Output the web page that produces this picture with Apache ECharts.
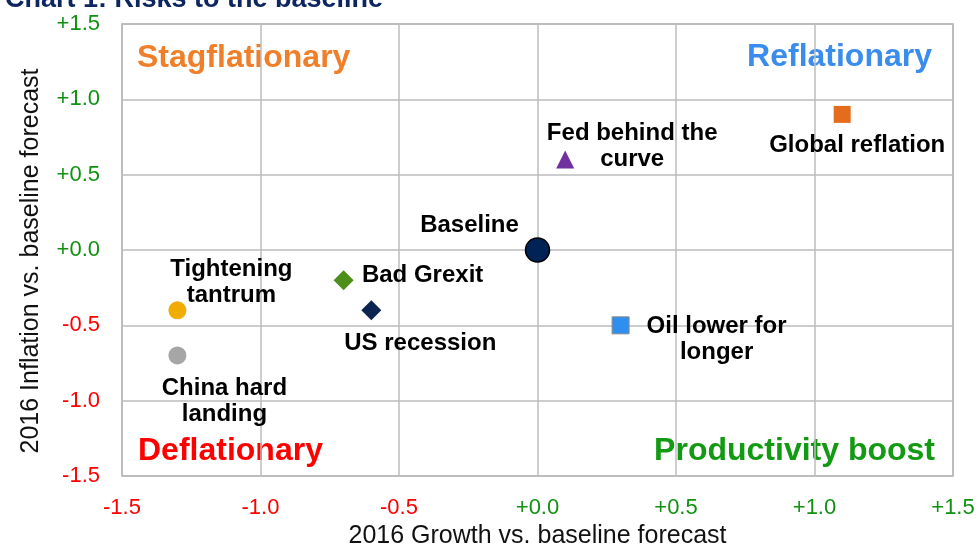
<!DOCTYPE html>
<html>
<head>
<meta charset="utf-8">
<script src="https://cdn.jsdelivr.net/npm/echarts@6/dist/echarts.min.js"></script>
<style>
  html, body { margin: 0; padding: 0; background: #fff; }
  #chart { width: 980px; height: 545px; }
</style>
</head>
<body>
<div id="chart"></div>
<script>
// scenarios: growth vs baseline (x), inflation vs baseline (y)
const names = ['Baseline', 'Fed behind the\ncurve', 'Global reflation', 'Bad Grexit', 'US recession',
  'Tightening\ntantrum', 'China hard\nlanding', 'Oil lower for\nlonger']
const growth = [0.0, 0.1, 1.1, -0.7, -0.6, -1.3, -1.3, 0.3]
const inflation = [0.0, 0.6, 0.9, -0.2, -0.4, -0.4, -0.7, -0.5]
const quadrants = ['Stagflationary', 'Reflationary', 'Deflationary', 'Productivity boost']

// marker looks + label offsets (px from the point centre)
const looks = [
  { symbol: 'circle', size: 24, color: '#002254', border: '#000', bw: 1.5, off: [-68, -25] },
  { symbol: 'triangle', size: 18, color: '#7030a0', off: [67, -13] },
  { symbol: 'rect', size: 17, color: '#e36c1d', off: [15, 31] },
  { symbol: 'diamond', size: 20, color: '#4e8f1a', off: [79, -5] },
  { symbol: 'diamond', size: 20, color: '#0b2550', off: [49, 33] },
  { symbol: 'circle', size: 18, color: '#f0ac00', off: [54, -28] },
  { symbol: 'circle', size: 18, color: '#a6a6a6', off: [47, 46] },
  { symbol: 'rect', size: 17, color: '#2f8ff0', border: '#8a8a8a', bw: 1, off: [96, 14] }
]

const font = '"Liberation Sans", Arial, sans-serif'
const chart = echarts.init(document.getElementById('chart'))

const fmt = v => v >= 0 ? '{p|+' + v.toFixed(1) + '}' : '{n|' + v.toFixed(1) + '}'
const signRich = {
  p: { color: '#119111', fontSize: 22, fontFamily: font },
  n: { color: '#ff0000', fontSize: 22, fontFamily: font }
}

const points = names.map((n, i) => {
  const lk = looks[i]
  return {
    value: [growth[i], inflation[i]],
    name: n,
    symbol: lk.symbol,
    symbolSize: lk.size,
    itemStyle: { color: lk.color, borderColor: lk.border || lk.color, borderWidth: lk.bw || 0, opacity: 1 },
    label: {
      show: true,
      formatter: n,
      position: 'inside',
      offset: lk.off,
      align: 'center',
      verticalAlign: 'middle',
      color: '#000',
      fontWeight: 'bold',
      fontSize: 24,
      lineHeight: 26,
      fontFamily: font
    }
  }
})

const quadText = (text, color, pos) => Object.assign({
  type: 'text',
  style: { text, fill: color, font: 'bold 32px ' + font }
}, pos)

const option = {
  animation: false,
  title: {
    text: 'Chart 1: Risks to the baseline',
    left: 0,
    top: -19,
    textStyle: { color: '#0d2660', fontSize: 27, fontWeight: 'bold', fontFamily: font }
  },
  grid: {
    left: 122, right: 27, top: 24, bottom: 69,
    outerBoundsMode: 'none',
    show: true, borderColor: '#a6a6a6', borderWidth: 1.5
  },
  xAxis: {
    type: 'value', min: -1.5, max: 1.5, interval: 0.5,
    name: '2016 Growth vs. baseline forecast',
    nameLocation: 'middle', nameGap: 47,
    nameTextStyle: { color: '#111', fontSize: 25, fontFamily: font },
    axisLine: { show: false },
    axisTick: { show: false },
    axisLabel: { formatter: fmt, rich: signRich, margin: 21 },
    splitLine: { lineStyle: { color: '#bdbdbd', width: 1.5 } }
  },
  yAxis: {
    type: 'value', min: -1.5, max: 1.5, interval: 0.5,
    name: '2016 Inflation vs. baseline forecast',
    nameLocation: 'middle', nameGap: 78,
    nameTextStyle: { color: '#111', fontSize: 25, fontFamily: font, padding: [0, 22, 0, 0] },
    axisLine: { show: false },
    axisTick: { show: false },
    axisLabel: { formatter: fmt, rich: signRich, margin: 22 },
    splitLine: { lineStyle: { color: '#bdbdbd', width: 1.5 } }
  },
  graphic: [
    quadText(quadrants[0], '#f07f2a', { left: 137, top: 42 }),
    quadText(quadrants[1], '#3b8ded', { right: 48, top: 41 }),
    quadText(quadrants[2], '#ff0000', { left: 138, top: 435 }),
    quadText(quadrants[3], '#129a12', { right: 45, top: 435 })
  ],
  series: [{
    type: 'scatter',
    data: points,
    z: 5
  }]
}

chart.setOption(option)
</script>
</body>
</html>
